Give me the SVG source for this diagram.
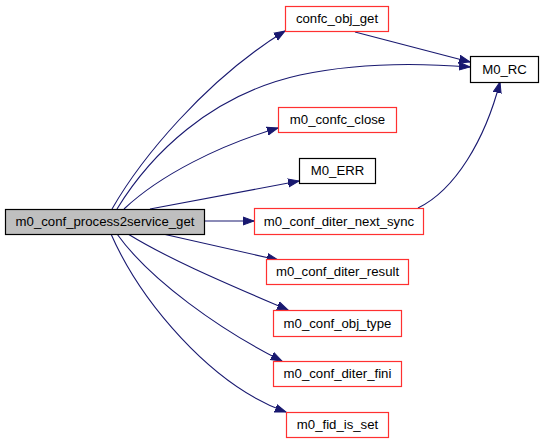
<svg xmlns="http://www.w3.org/2000/svg" width="543" height="443" viewBox="0 0 543 443">
<style>
.n rect{fill:#fff;stroke:#ff3030;stroke-width:1.2}
.b rect{fill:#fff;stroke:#000;stroke-width:1.2}
.m rect{fill:#bfbfbf;stroke:#000;stroke-width:1.2}
text{font-family:"Liberation Sans",Arial,sans-serif;font-size:13.2px;text-anchor:middle;fill:#000}
.e path{fill:none;stroke:#191970;stroke-width:1.1;marker-end:url(#a)}
</style>
<defs>
<marker id="a" markerUnits="userSpaceOnUse" markerWidth="14" markerHeight="12" refX="11" refY="5" orient="auto" viewBox="0 0 14 10">
<path d="M0,1 L11,5 L0,9 Z" fill="#191970" stroke="#191970"/>
</marker>
</defs>
<rect width="543" height="443" fill="#fff"/>
<g class="e" id="edges">
<path d="M112,209 C140,160 205,80 285,31"/>
<path d="M117,209 C150,155 210,95 300,75 C360,62 420,63 470,67"/>
<path d="M355,32 L470,62"/>
<path d="M124,209 C160,175 220,145 278,128"/>
<path d="M150,209 L299,181"/>
<path d="M204,221 L254,221"/>
<path d="M418,208 C455,190 485,140 500,82"/>
<path d="M163,234 L278,260"/>
<path d="M128,234 C170,260 230,285 288,310"/>
<path d="M117,234 C150,280 220,330 282,361"/>
<path d="M111,234 C140,300 210,385 286,412"/>
</g>
<g class="m" id="main"><rect x="5.5" y="209.5" width="199" height="25"/><text x="105" y="226">m0_conf_process2service_get</text></g>
<g class="n" id="confc_obj_get"><rect x="285.5" y="6.5" width="103" height="25"/><text x="337" y="23">confc_obj_get</text></g>
<g class="b" id="M0_RC"><rect x="470.5" y="56.5" width="68" height="26"/><text x="504.5" y="74">M0_RC</text></g>
<g class="n" id="m0_confc_close"><rect x="278.5" y="107.5" width="118" height="25"/><text x="337.5" y="124">m0_confc_close</text></g>
<g class="b" id="M0_ERR"><rect x="299.5" y="158.5" width="76" height="25"/><text x="337.5" y="175">M0_ERR</text></g>
<g class="n" id="m0_conf_diter_next_sync"><rect x="254.5" y="208.5" width="169" height="26"/><text x="339" y="226">m0_conf_diter_next_sync</text></g>
<g class="n" id="m0_conf_diter_result"><rect x="266.5" y="259.5" width="142" height="25"/><text x="337.5" y="276">m0_conf_diter_result</text></g>
<g class="n" id="m0_conf_obj_type"><rect x="273.5" y="310.5" width="128" height="26"/><text x="337.5" y="328">m0_conf_obj_type</text></g>
<g class="n" id="m0_conf_diter_fini"><rect x="273.5" y="361.5" width="128" height="25"/><text x="337.5" y="378">m0_conf_diter_fini</text></g>
<g class="n" id="m0_fid_is_set"><rect x="286.5" y="412.5" width="102" height="25"/><text x="337.5" y="429">m0_fid_is_set</text></g>
</svg>
